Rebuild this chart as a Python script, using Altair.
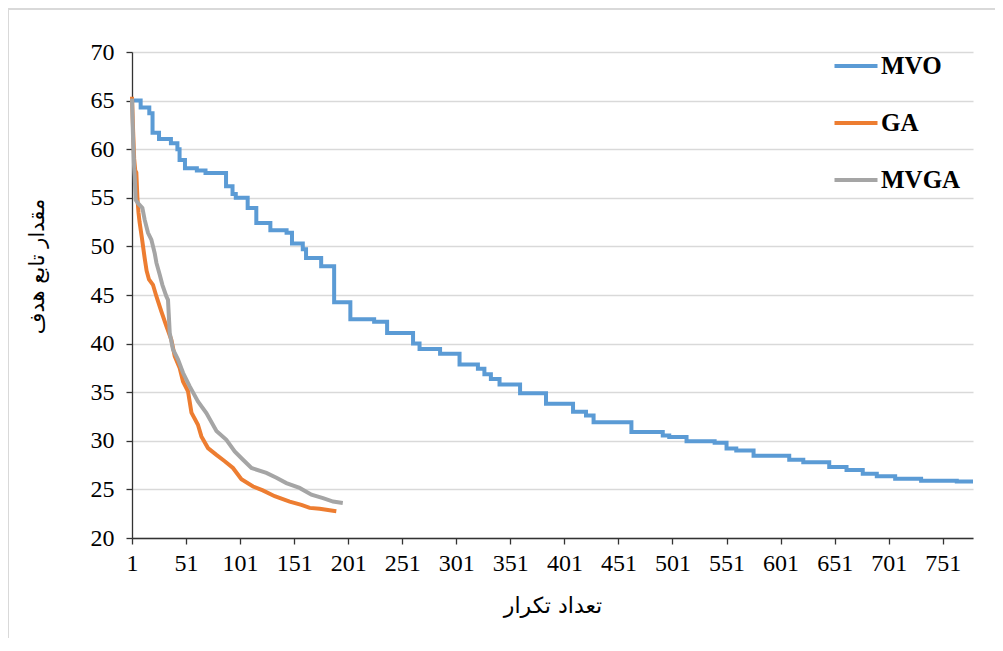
import altair as alt
import pandas as pd

# ---- data ----
series_names = ["MVO", "GA", "MVGA"]
series_colors = ["#5B9BD5", "#ED7D31", "#A5A5A5"]

mvo_x = [1, 9, 17, 20, 26, 37, 43, 45, 50, 61, 69, 88, 94, 97, 108, 116, 129, 144, 149, 159,
         162, 176, 188, 203, 225, 237, 261, 267, 286, 304, 321, 327, 333, 341, 360, 384, 409,
         421, 428, 463, 492, 498, 514, 540, 551, 560, 576, 609, 622, 646, 662, 677, 690, 707,
         731, 764, 779]
mvo_y = [65.0, 64.3, 63.7, 61.7, 61.05, 60.6, 60.0, 58.9, 58.05, 57.8, 57.55, 56.2, 55.4, 55.0,
         53.95, 52.4, 51.65, 51.4, 50.3, 49.7, 48.8, 47.95, 44.25, 42.5, 42.25, 41.1, 40.0, 39.45,
         38.95, 37.85, 37.4, 36.85, 36.35, 35.8, 34.9, 33.8, 33.0, 32.6, 31.9, 30.9, 30.55, 30.4,
         29.95, 29.8, 29.2, 29.0, 28.45, 28.05, 27.8, 27.3, 27.0, 26.6, 26.35, 26.1, 25.9, 25.8,
         25.8]

ga_x = [1, 2, 3, 4, 5, 6, 7, 8, 10, 12.7, 14.5, 16.7, 20.4, 23.6, 28.2, 32.8, 37.4, 40.5, 45.1,
        48.2, 52.8, 56, 62, 65.2, 71.3, 79.1, 86.8, 94.4, 102.2, 113, 122, 133, 146.9, 157.7,
        165.4, 174.6, 190]
ga_y = [65.4, 62, 59, 57.8, 57.6, 55, 53.5, 52.5, 51, 48.8, 47.5, 46.6, 46.05, 44.85, 43.3, 41.8,
        40.4, 38.7, 37.5, 36.1, 35.1, 32.9, 31.65, 30.45, 29.25, 28.55, 27.9, 27.2, 26.05, 25.3,
        24.9, 24.3, 23.75, 23.4, 23.1, 23.0, 22.75]

mvga_x = [1, 2, 3, 3.5, 4.4, 6.5, 10.6, 12.7, 15.8, 18.9, 22, 23.6, 26.6, 29.1, 32.8, 34.3, 35.9,
          38.9, 43.6, 48.2, 54.4, 62, 69.8, 79.1, 88.3, 96, 103.7, 111.5, 125.3, 134.6, 143.8,
          156, 167, 177.7, 187, 196]
mvga_y = [65.2, 61, 58, 57.2, 54.8, 54.45, 53.95, 52.75, 51.4, 50.7, 49.3, 48.3, 47.1, 46.05,
          44.85, 44.5, 41.1, 39.4, 38.35, 37.0, 35.6, 34.05, 32.85, 31.0, 30.1, 28.9, 28.05, 27.2,
          26.7, 26.2, 25.65, 25.15, 24.45, 24.1, 23.75, 23.6]

x_ticks = [1, 51, 101, 151, 201, 251, 301, 351, 401, 451, 501, 551, 601, 651, 701, 751]
y_ticks = [20, 25, 30, 35, 40, 45, 50, 55, 60, 65, 70]
x_title = "تعداد تکرار"
y_title = "مقدار تابع هدف"

mvo_df = pd.DataFrame({"x": mvo_x, "y": mvo_y, "s": "MVO"})
ga_df = pd.DataFrame({"x": ga_x, "y": ga_y, "s": "GA"})
mvga_df = pd.DataFrame({"x": mvga_x, "y": mvga_y, "s": "MVGA"})

W, H = 841, 486

xenc = alt.X("x:Q",
             scale=alt.Scale(domain=[1, 779], nice=False, zero=False),
             axis=alt.Axis(values=x_ticks, title=x_title, grid=False, format="d",
                           labelPadding=7, titlePadding=20, labelFlush=False))
yenc = alt.Y("y:Q",
             scale=alt.Scale(domain=[20, 70], nice=False, zero=False),
             axis=alt.Axis(values=y_ticks, title=y_title, grid=True, format="d",
                           labelPadding=12, titleX=-85, titleY=214, titleFontSize=21))
cenc = alt.Color("s:N",
                 scale=alt.Scale(domain=series_names, range=series_colors),
                 legend=alt.Legend(orient="none", legendX=700, legendY=-10, title=None,
                                   symbolType="stroke", symbolSize=1850, symbolStrokeWidth=4,
                                   labelFont="Liberation Serif", labelFontWeight="bold",
                                   labelFontSize=25, labelColor="black", rowPadding=20,
                                   labelOffset=1))

base_mvo = alt.Chart(mvo_df).mark_line(strokeWidth=4, interpolate="step-after").encode(
    x=xenc, y=yenc, color=cenc)
base_ga = alt.Chart(ga_df).mark_line(strokeWidth=4).encode(x=xenc, y=yenc, color=cenc)
base_mvga = alt.Chart(mvga_df).mark_line(strokeWidth=4).encode(x=xenc, y=yenc, color=cenc)

one = pd.DataFrame({"a": [0]})
frame_left = alt.Chart(one).mark_rule(color="#d9d9d9", strokeWidth=2).encode(
    x=alt.value(-124), y=alt.value(-43), y2=alt.value(H + 110))
frame_top = alt.Chart(one).mark_rule(color="#d9d9d9", strokeWidth=2).encode(
    x=alt.value(-124), x2=alt.value(W + 40), y=alt.value(-43))

chart = alt.layer(frame_left, frame_top, base_mvo, base_ga, base_mvga).properties(
    width=W, height=H,
    autosize=alt.AutoSizeParams(type="none"),
    padding={"left": 124, "top": 44, "right": 22, "bottom": 100},
    background="white",
).configure_view(stroke=None).configure_axis(
    labelFont="Liberation Serif", labelFontSize=24, labelColor="black",
    titleFont="DejaVu Sans", titleFontSize=22, titleFontWeight="normal", titleColor="black",
    domainColor="#333333", tickColor="#333333", tickSize=6, domainWidth=1.3, tickWidth=1.3,
    gridColor="#d9d9d9", gridWidth=1.3,
)

chart.save("out.html", embed_options={"renderer": "svg", "actions": False})
